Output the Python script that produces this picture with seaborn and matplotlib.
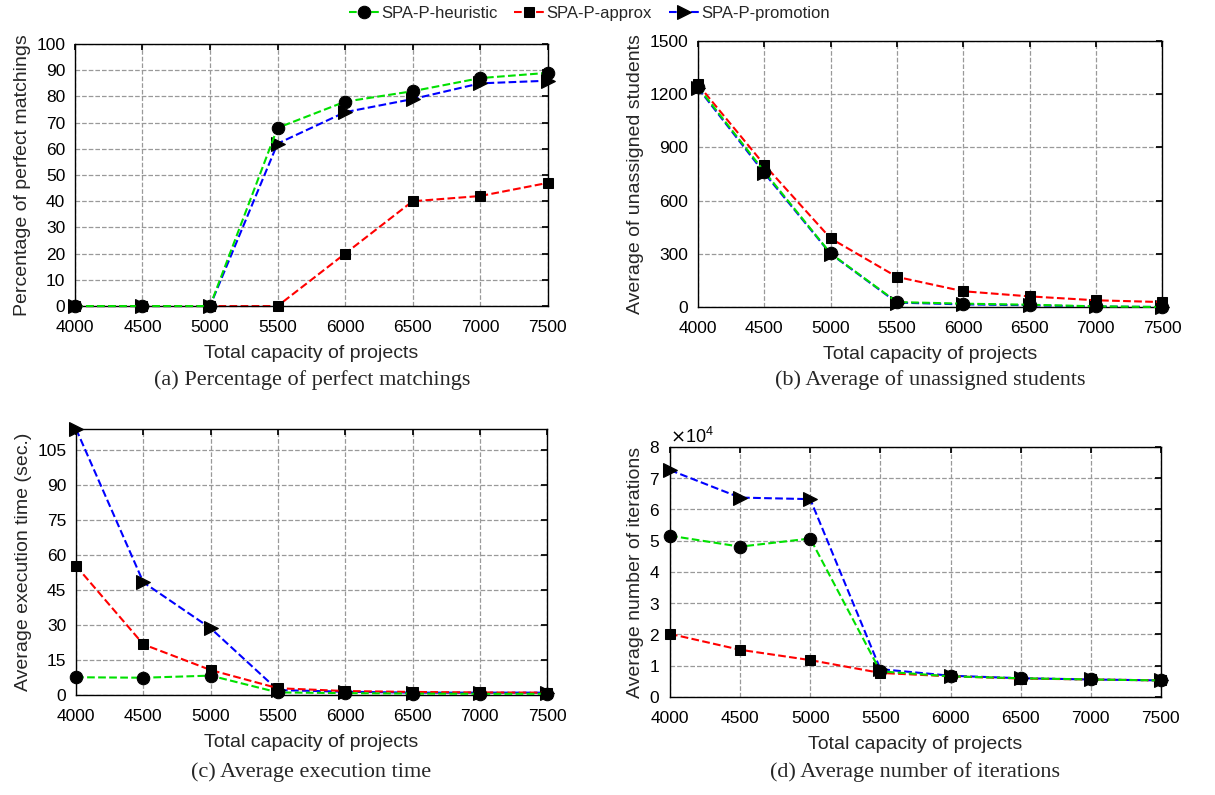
import numpy as np
import pandas as pd
import matplotlib
matplotlib.use("Agg")
import matplotlib.pyplot as plt
import seaborn as sns

###############################################################################
# Data
###############################################################################
capacity = [4000, 4500, 5000, 5500, 6000, 6500, 7000, 7500]
series_names = ["SPA-P-heuristic", "SPA-P-approx", "SPA-P-promotion"]

# (a) percentage of perfect matchings
perfect_heuristic = [0, 0, 0, 68, 78, 82, 87, 89]
perfect_approx = [0, 0, 0, 0, 20, 40, 42, 47]
perfect_promotion = [0, 0, 0, 62, 74, 79, 85, 86]

# (b) average of unassigned students
unassigned_heuristic = [1241, 764, 302, 28, 19, 13, 4, 0]
unassigned_approx = [1255, 802, 387, 170, 89, 60, 38, 28]
unassigned_promotion = [1235, 755, 300, 25, 15, 10, 3, 0]

# (c) average execution time (sec.)
time_heuristic = [7.6, 7.4, 8.3, 1.1, 0.8, 0.6, 0.5, 0.5]
time_approx = [55.3, 21.7, 10.7, 2.9, 1.7, 1.3, 1.1, 1.0]
time_promotion = [114, 48.3, 28.6, 2.1, 1.4, 1.0, 1.0, 1.0]

# (d) average number of iterations
iter_heuristic = [51600, 48100, 50700, 8200, 6600, 6000, 5600, 5300]
iter_approx = [20200, 15100, 11800, 7700, 6600, 5900, 5600, 5300]
iter_promotion = [72600, 63800, 63300, 8900, 6800, 6000, 5600, 5300]

###############################################################################
# Style
###############################################################################
sns.set_theme(style="white")
plt.rcParams["font.family"] = ["Liberation Sans", "DejaVu Sans"]

line_colors = ["#00e000", "#ff0000", "#0000ff"]
markers = ["o", "s", ">"]
marker_sizes = [9, 7, 10]
zorders = [2.6, 2.4, 2.2]  # green drawn on top, like the reference

fig = plt.figure(figsize=(12.15, 7.95), dpi=100)

axes_pos = [
    [0.0617, 0.615, 0.389, 0.3296],
    [0.5745, 0.6138, 0.382, 0.3346],
    [0.0626, 0.1258, 0.3877, 0.3346],
    [0.5514, 0.1233, 0.4041, 0.3145],
]
caption_xy = [(0.2568, 0.522), (0.7654, 0.522), (0.2560, 0.029), (0.7531, 0.029)]

panels = [
    (perfect_heuristic, perfect_approx, perfect_promotion,
     "Percentage of perfect matchings", "(a) Percentage of perfect matchings",
     (0, 100), np.arange(0, 101, 10)),
    (unassigned_heuristic, unassigned_approx, unassigned_promotion,
     "Average of unassigned students", "(b) Average of unassigned students",
     (0, 1500), np.arange(0, 1501, 300)),
    (time_heuristic, time_approx, time_promotion,
     "Average execution time (sec.)", "(c) Average execution time",
     (0, 114), np.arange(0, 106, 15)),
    (iter_heuristic, iter_approx, iter_promotion,
     "Average number of iterations", "(d) Average number of iterations",
     (0, 80000), np.arange(0, 80001, 10000)),
]

for i, (h, a, p, ylab, caption, ylim, yticks) in enumerate(panels):
    ax = fig.add_axes(axes_pos[i])
    for name, vals, col, mk, ms, z in zip(series_names, [h, a, p], line_colors,
                                          markers, marker_sizes, zorders):
        df = pd.DataFrame({"capacity": capacity, "value": vals})
        sns.lineplot(data=df, x="capacity", y="value", ax=ax, color=col,
                     linestyle="--", linewidth=1.5, marker=mk, markersize=ms,
                     markerfacecolor="black", markeredgecolor="black", zorder=z,
                     label=name if i == 0 else None, legend=False, clip_on=False)
    ax.set_xlim(4000, 7500)
    ax.set_xticks(capacity)
    ax.set_ylim(*ylim)
    ax.set_yticks(yticks)
    ax.grid(True, color="#999999", linestyle="--", linewidth=0.9)
    ax.tick_params(direction="in", top=True, right=True, length=4,
                   labelsize=12.5, colors="black")
    ax.tick_params(axis="x", pad=10)
    ax.tick_params(axis="y", pad=7)
    for s in ax.spines.values():
        s.set_color("black")
        s.set_linewidth(1.0)
    ax.set_xlabel("Total capacity of projects", fontsize=14, labelpad=7)
    ax.set_ylabel(ylab, fontsize=14, labelpad=4)
    if i == 3:
        ax.ticklabel_format(axis="y", style="sci", scilimits=(4, 4), useMathText=True)
        ax.yaxis.get_offset_text().set_fontsize(13)
    fig.text(caption_xy[i][0], caption_xy[i][1], caption, ha="center", va="center",
             fontsize=16, family=["Liberation Serif", "DejaVu Serif"])

handles, labels = fig.axes[0].get_legend_handles_labels()
fig.legend(handles, labels, loc="center", bbox_to_anchor=(0.485, 0.983), ncol=3,
           frameon=False, fontsize=12, handlelength=1.8, columnspacing=1.0,
           handletextpad=0.15)

fig.savefig("out.png", dpi=100)
